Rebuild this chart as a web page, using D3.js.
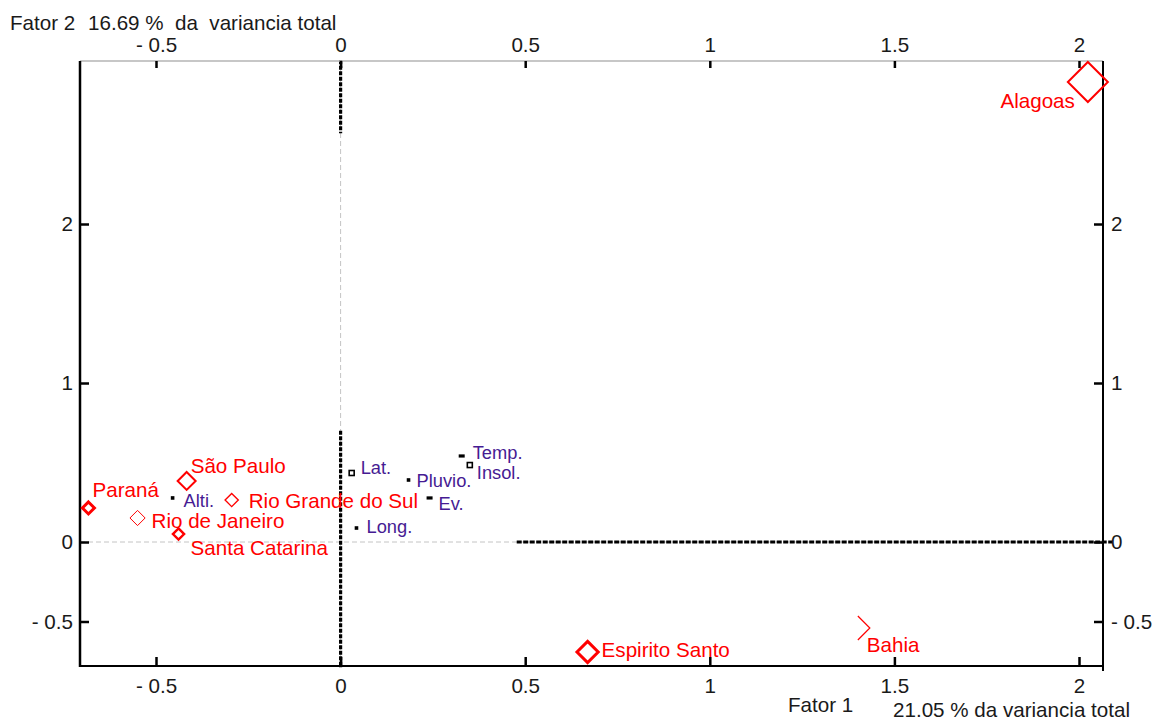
<!DOCTYPE html>
<html>
<head>
<meta charset="utf-8">
<script src="https://cdn.jsdelivr.net/npm/d3@7/dist/d3.min.js"></script>
<style>
  html, body { margin: 0; padding: 0; background: #fff; }
  svg { display: block; font-family: "Liberation Sans", Arial, sans-serif; }
</style>
</head>
<body>
<svg id="chart" width="1153" height="720"></svg>
<script>
// Factor plane (Fator 1 x Fator 2): climatic variables and Brazilian states
const variables = ["Lat.", "Long.", "Alti.", "Temp.", "Insol.", "Pluvio.", "Ev."];
const variableF1 = [0.030, 0.043, -0.455, 0.328, 0.350, 0.184, 0.241];
const variableF2 = [0.434, 0.088, 0.277, 0.541, 0.484, 0.390, 0.277];
const variableMarker = ["hollow", "dot", "dot", "bar", "hollow", "dot", "bar"];

const states = ["Paraná", "São Paulo", "Rio Grande do Sul", "Rio de Janeiro",
                "Santa Catarina", "Alagoas", "Espirito Santo", "Bahia"];
const stateF1 = [-0.683, -0.417, -0.295, -0.550, -0.439, 2.024, 0.669, 1.401];
const stateF2 = [0.214, 0.384, 0.264, 0.151, 0.050, 2.893, -0.692, -0.541];
const stateWeight = [0.30, 0.45, 0.33, 0.38, 0.28, 1.00, 0.53, 0.60];

const xTicks = [-0.5, 0, 0.5, 1, 1.5, 2];
const yTicks = [-0.5, 0, 1, 2];
const factor1Label = "Fator 1";
const factor1Variance = "21.05 % da variancia total";
const factor2Label = "Fator 2";
const factor2Variance = "16.69 %  da  variancia total";

// Thick dotted stretches drawn along the zero axes, in factor units
const axisSegmentsV = [[3.03, 2.57], [0.70, -0.79]];
const axisSegmentsH = [[0.477, 2.09]];

// ---- layout ----
const frame = { left: 80, right: 1103, top: 61, bottom: 666 };
const RED = "#ff0000";
const PURPLE = "#461b93";
const INK = "#1a1a1a";
const FS = 20.6;

const x = d3.scaleLinear().domain([-0.5, 2]).range([156, 1079]);
const y = d3.scaleLinear().domain([0, 2]).range([542, 224]);
const half = d3.scaleLinear().domain([0, 1]).range([0, 20]);

const stateStroke = [3, 2, 1.4, 1, 2.4, 2, 3, 1.2];
const stateLabelOffset = [[4, -11, "start"], [4, -8, "start"], [17, 8, "start"], [14, 10, "start"],
                          [12, 21, "start"], [-13, 26, "end"], [14, 5, "start"], [9, 24, "start"]];
const variableLabelOffset = [[9, 1], [10, 5], [11, 9], [11, 3], [7, 14], [8, 7], [9, 12]];

const fmt = d => d < 0 ? "- " + Math.abs(d) : String(d);

const svg = d3.select("#chart");

// zero reference lines (light dashes)
const g = svg.append("g");
g.append("line")
  .attr("x1", frame.left).attr("x2", frame.right)
  .attr("y1", y(0)).attr("y2", y(0))
  .attr("stroke", "#c4c4c4").attr("stroke-width", 1).attr("stroke-dasharray", "5,3");
g.append("line")
  .attr("x1", x(0)).attr("x2", x(0))
  .attr("y1", frame.top).attr("y2", frame.bottom)
  .attr("stroke", "#c4c4c4").attr("stroke-width", 1).attr("stroke-dasharray", "5,3");

// heavy dotted stretches of the zero axes
g.selectAll("line.segv").data(axisSegmentsV).enter().append("line")
  .attr("class", "segv")
  .attr("x1", x(0)).attr("x2", x(0))
  .attr("y1", d => y(d[0])).attr("y2", d => y(d[1]))
  .attr("stroke", "#000").attr("stroke-width", 3.2).attr("stroke-dasharray", "4,1.5");
g.selectAll("line.segh").data(axisSegmentsH).enter().append("line")
  .attr("class", "segh")
  .attr("x1", d => x(d[0])).attr("x2", d => x(d[1]))
  .attr("y1", y(0)).attr("y2", y(0))
  .attr("stroke", "#000").attr("stroke-width", 3.2).attr("stroke-dasharray", "5,1.5");

// frame
svg.append("line").attr("x1", frame.left).attr("x2", frame.right)
  .attr("y1", frame.top).attr("y2", frame.top)
  .attr("stroke", "#b5b5b5").attr("stroke-width", 1.5);

// axes
function styleAxis(sel, tickWidth) {
  sel.select(".domain").remove();
  sel.selectAll(".tick line").attr("stroke", "#000").attr("stroke-width", tickWidth);
  sel.selectAll(".tick text").attr("fill", INK).attr("font-size", FS)
    .attr("font-family", "'Liberation Sans', Arial, sans-serif");
}

const bottomAxis = svg.append("g").attr("transform", `translate(0,${frame.bottom})`)
  .call(d3.axisBottom(x).tickValues(xTicks).tickFormat(fmt).tickSize(-9).tickPadding(12));
styleAxis(bottomAxis, 2.5);

const topAxis = svg.append("g").attr("transform", `translate(0,${frame.top})`)
  .call(d3.axisTop(x).tickValues(xTicks).tickFormat(fmt).tickSize(-7).tickPadding(9));
styleAxis(topAxis, 2.5);

const leftAxis = svg.append("g").attr("transform", `translate(${frame.left},0)`)
  .call(d3.axisLeft(y).tickValues(yTicks).tickFormat(fmt).tickSize(-9).tickPadding(7));
styleAxis(leftAxis, 2.5);

const rightAxis = svg.append("g").attr("transform", `translate(${frame.right},0)`)
  .call(d3.axisRight(y).tickValues(yTicks).tickFormat(fmt).tickSize(-9).tickPadding(8));
styleAxis(rightAxis, 2.5);

svg.append("line").attr("x1", frame.left).attr("x2", frame.left)
  .attr("y1", frame.top).attr("y2", frame.bottom + 1)
  .attr("stroke", "#000").attr("stroke-width", 2.5);
svg.append("line").attr("x1", frame.left).attr("x2", frame.right + 1)
  .attr("y1", frame.bottom).attr("y2", frame.bottom)
  .attr("stroke", "#000").attr("stroke-width", 2);
svg.append("line").attr("x1", frame.right).attr("x2", frame.right)
  .attr("y1", frame.top).attr("y2", frame.bottom + 5)
  .attr("stroke", "#000").attr("stroke-width", 2);

// axis titles
svg.append("text").attr("x", 10).attr("y", 30).attr("font-size", FS).attr("fill", INK)
  .text(factor2Label);
svg.append("text").attr("x", 88).attr("y", 30).attr("font-size", FS).attr("fill", INK)
  .attr("xml:space", "preserve").style("white-space", "pre")
  .text(factor2Variance);
svg.append("text").attr("x", 788).attr("y", 712).attr("font-size", FS).attr("fill", INK)
  .text(factor1Label);
svg.append("text").attr("x", 893).attr("y", 717).attr("font-size", FS).attr("fill", INK)
  .text(factor1Variance);

// variables
const vars = svg.append("g").selectAll("g").data(variables).enter().append("g")
  .attr("transform", (d, i) => `translate(${x(variableF1[i])},${y(variableF2[i])})`);
vars.each(function (d, i) {
  const s = d3.select(this);
  const m = variableMarker[i];
  if (m === "hollow") {
    s.append("rect").attr("x", -2.5).attr("y", -2.5).attr("width", 5).attr("height", 5)
      .attr("fill", "#fff").attr("stroke", "#000").attr("stroke-width", 1.6);
  } else if (m === "bar") {
    s.append("rect").attr("x", -3).attr("y", -1.6).attr("width", 6).attr("height", 3.2)
      .attr("fill", "#000");
  } else {
    s.append("rect").attr("x", -1.8).attr("y", -1.8).attr("width", 3.6).attr("height", 3.6)
      .attr("fill", "#000");
  }
  s.append("text")
    .attr("x", variableLabelOffset[i][0]).attr("y", variableLabelOffset[i][1])
    .attr("font-size", 18.3).attr("fill", PURPLE).text(d);
});

// states (Bahia's diamond only shows its right-hand edges)
const st = svg.append("g").selectAll("g").data(states).enter().append("g")
  .attr("transform", (d, i) => `translate(${x(stateF1[i])},${y(stateF2[i])})`);
st.append("path")
  .attr("d", (d, i) => {
    const h = half(stateWeight[i]);
    return d === "Bahia"
      ? `M0,${-h}L${h},0L0,${h}`
      : `M0,${-h}L${h},0L0,${h}L${-h},0Z`;
  })
  .attr("fill", "none").attr("stroke", RED)
  .attr("stroke-width", (d, i) => stateStroke[i]);
st.append("text")
  .attr("x", (d, i) => stateLabelOffset[i][0])
  .attr("y", (d, i) => stateLabelOffset[i][1])
  .attr("text-anchor", (d, i) => stateLabelOffset[i][2])
  .attr("font-size", FS).attr("fill", RED).text(d => d);
</script>
</body>
</html>
